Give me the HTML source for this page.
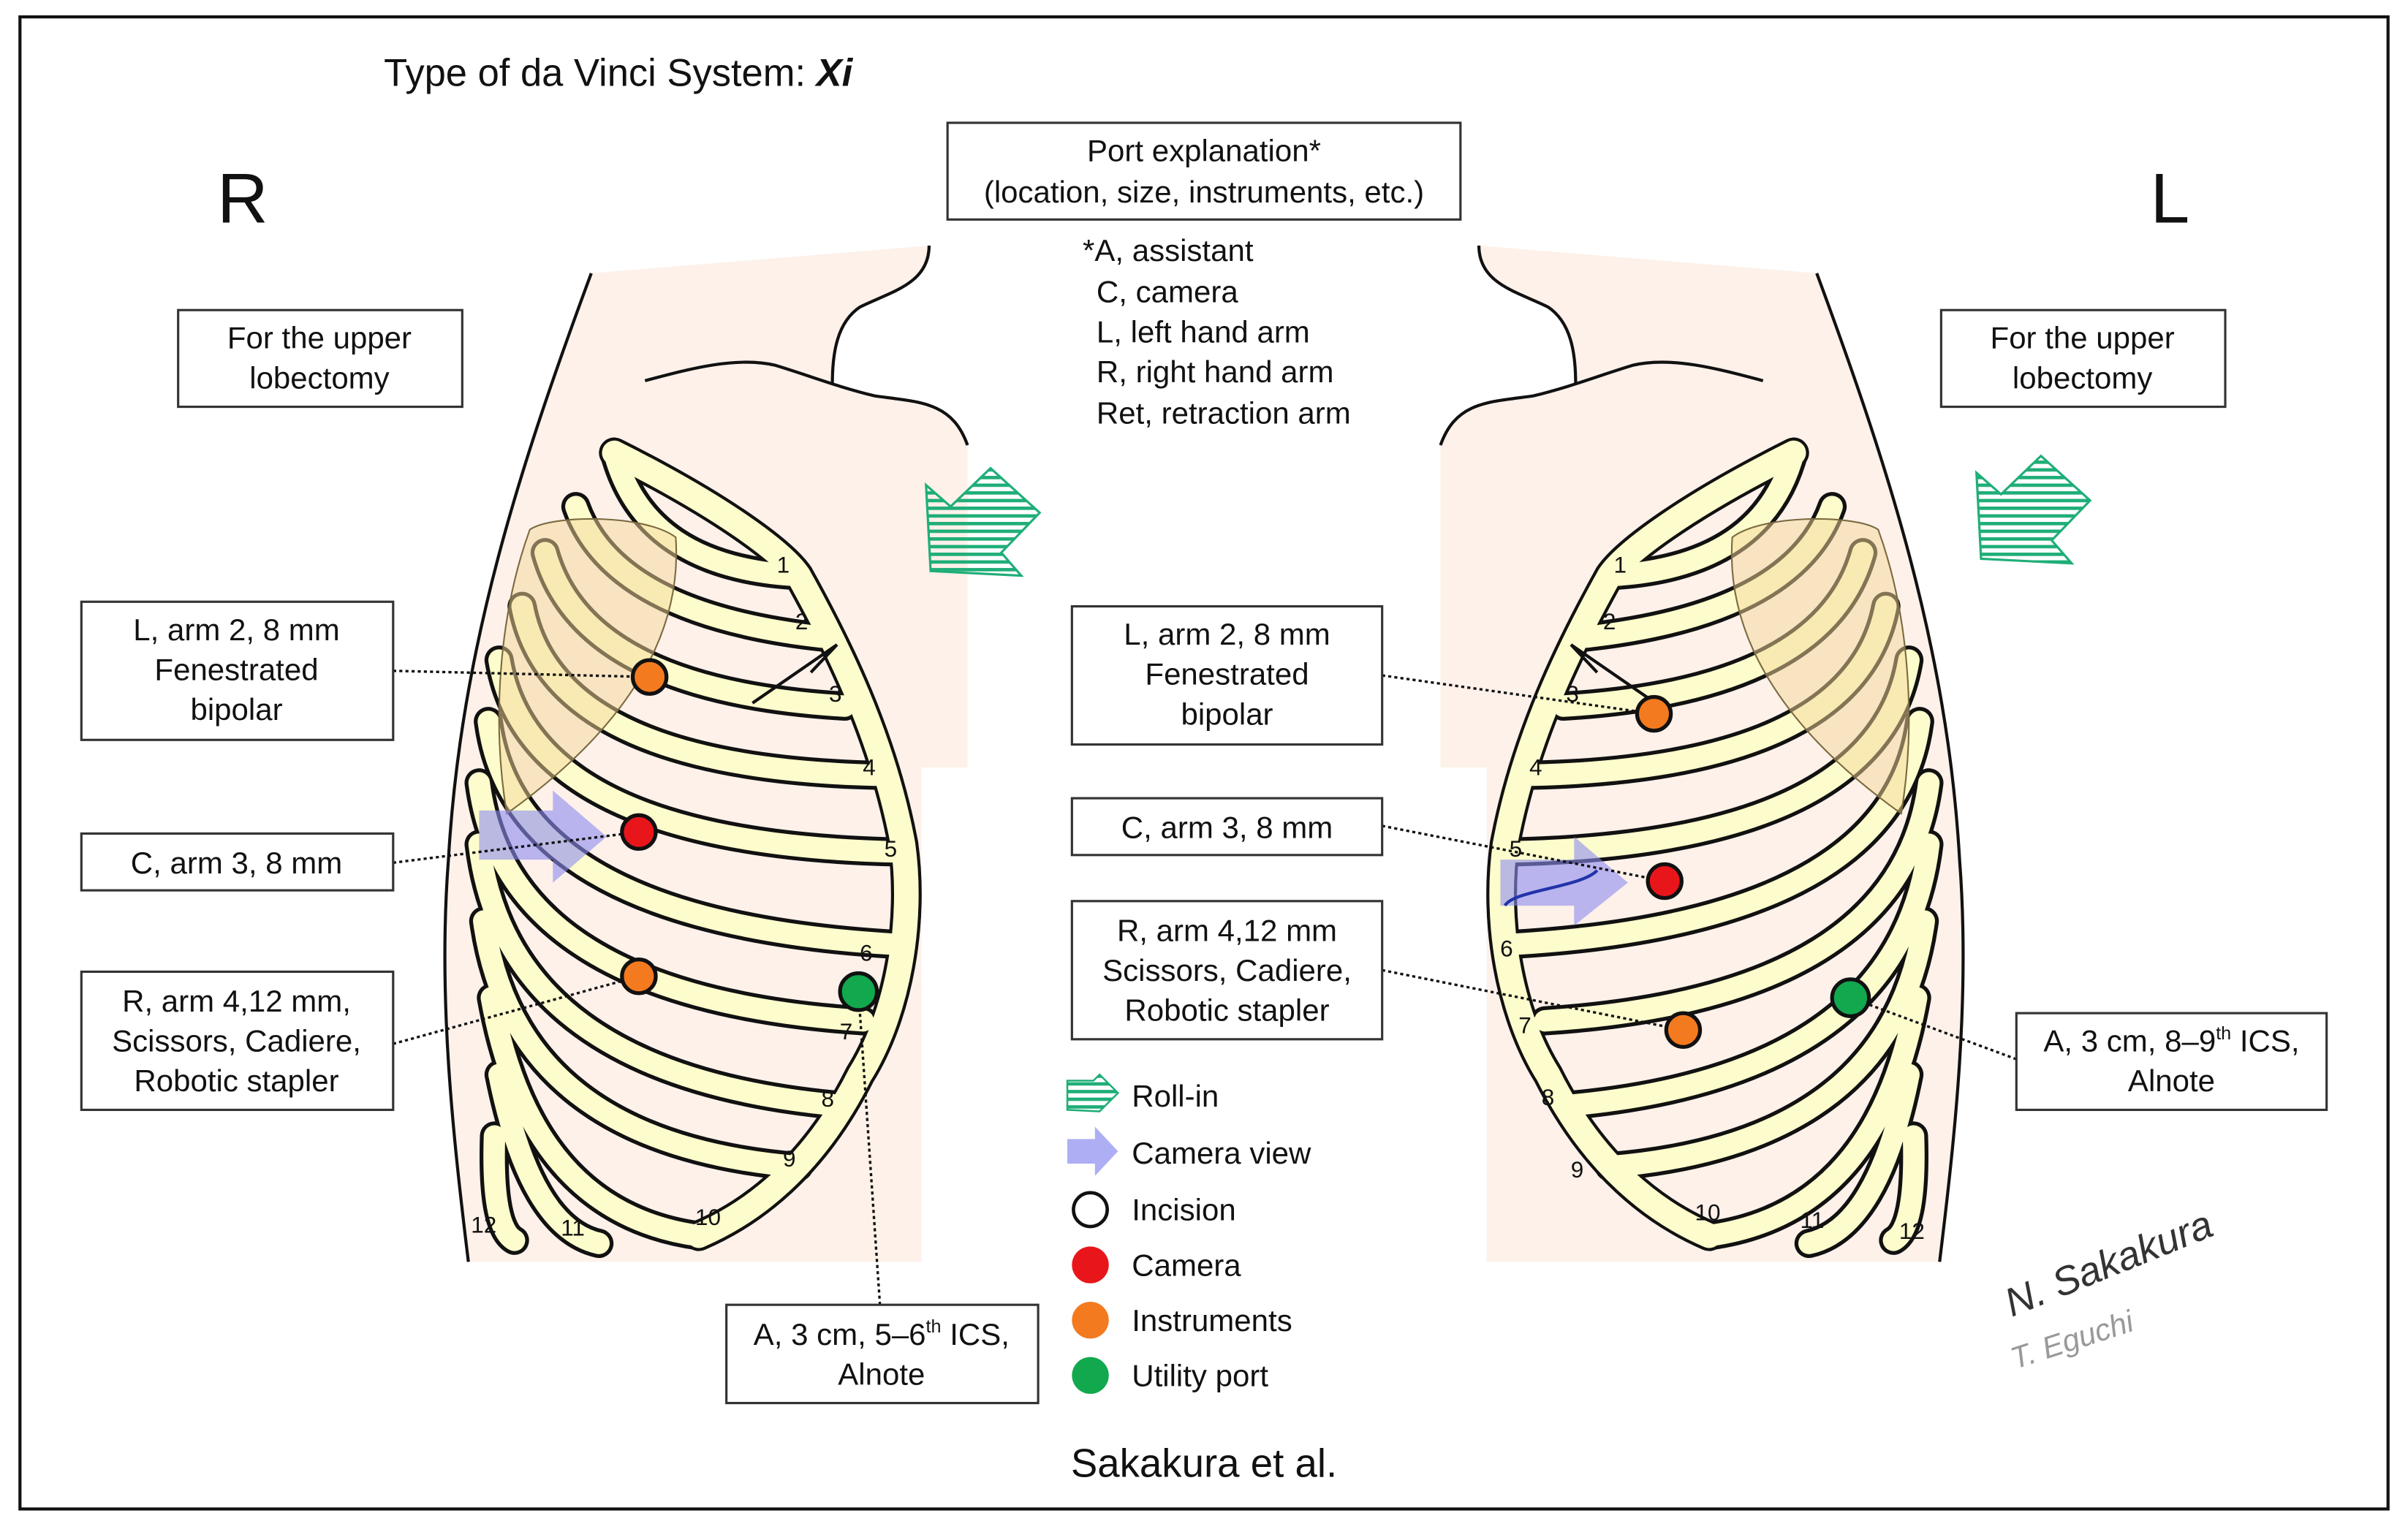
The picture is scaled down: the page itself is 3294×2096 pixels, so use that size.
<!DOCTYPE html>
<html><head><meta charset="utf-8"><style>
html,body{margin:0;padding:0;background:#fff;}
svg{display:block;}
text{font-family:"Liberation Sans",Arial,sans-serif;fill:#111;}
</style></head><body>
<svg width="3294" height="2096" viewBox="0 0 1568 998" preserveAspectRatio="none" xmlns="http://www.w3.org/2000/svg">
<defs>
<pattern id="hs" width="6" height="5" patternUnits="userSpaceOnUse"><rect width="6" height="2.2" fill="#1fae78"/></pattern>
<g id="body">
  <path d="M385,178 L605,160 C605,185 580,190 560,200 C545,210 542,230 542,250 C560,256 600,262 612,268 C625,275 630,285 630,292 L630,500 L600,500 L600,822 L305,822 C295,740 285,650 292,560 C300,420 340,300 385,178 Z" fill="#fdf1ea"/>
  <path d="M385,178 C340,300 300,420 292,560 C285,650 295,740 305,822" fill="none" stroke="#111" stroke-width="2"/>
  <path d="M605,160 C605,185 580,190 560,200 C545,210 542,230 542,250" fill="none" stroke="#111" stroke-width="2"/>
  <path d="M420,248 C450,240 480,232 505,238 C525,244 545,252 570,258 C600,262 620,262 630,290" fill="none" stroke="#111" stroke-width="2"/>
  <!-- costal band -->
  <path d="M400,295 C470,330 510,360 520,375 C545,420 575,480 588,550 C595,600 585,660 560,700 C530,760 490,790 455,805" fill="none" stroke="#111" stroke-width="20" stroke-linecap="round"/>
  <g fill="none" stroke-linecap="round">
    <g stroke="#111" stroke-width="19">
      <path d="M400,295 Q420,370 520,375"/><path d="M375,330 Q400,400 535,415"/><path d="M355,360 Q380,450 550,460"/>
      <path d="M340,395 Q360,500 570,505"/><path d="M325,430 Q345,550 585,555"/><path d="M318,470 Q335,600 580,615"/>
      <path d="M312,510 Q330,650 562,665"/><path d="M312,550 Q330,700 545,720"/><path d="M315,600 Q335,745 520,760"/>
      <path d="M320,650 Q345,790 455,805"/><path d="M325,700 Q345,800 390,810"/><path d="M322,740 Q320,800 335,808"/>
    </g>
    <path d="M400,295 C470,330 510,360 520,375 C545,420 575,480 588,550 C595,600 585,660 560,700 C530,760 490,790 455,805" stroke="#fdfccc" stroke-width="16"/>
    <g stroke="#fdfccc" stroke-width="14">
      <path d="M400,295 Q420,370 520,375"/><path d="M375,330 Q400,400 535,415"/><path d="M355,360 Q380,450 550,460"/>
      <path d="M340,395 Q360,500 570,505"/><path d="M325,430 Q345,550 585,555"/><path d="M318,470 Q335,600 580,615"/>
      <path d="M312,510 Q330,650 562,665"/><path d="M312,550 Q330,700 545,720"/><path d="M315,600 Q335,745 520,760"/>
      <path d="M320,650 Q345,790 455,805"/><path d="M325,700 Q345,800 390,810"/><path d="M322,740 Q320,800 335,808"/>
    </g>
  </g>
  <path d="M490,458 L545,420 L528,438" fill="none" stroke="#111" stroke-width="2"/>
  <path d="M345,345 C360,335 420,335 440,350 C445,420 400,480 330,530 C320,470 325,400 345,345 Z" fill="#f5d79a" fill-opacity="0.5" stroke="#7a6a40" stroke-width="1"/>
</g>
</defs>
<rect x="13" y="11" width="1542" height="972" fill="#fff" stroke="#111" stroke-width="2"/>
<use href="#body"/>
<use href="#body" transform="matrix(-1,0,0,1,1568,0)"/>
<!-- roll-in arrows -->
<path d="M603,316 L619,330 L645,305 L677,334 L652,360 L665,375 L606,372 Z" fill="url(#hs)" stroke="#1fae78" stroke-width="1.5"/>
<path d="M1287,308 L1303,322 L1329,297 L1361,326 L1336,352 L1349,367 L1290,364 Z" fill="url(#hs)" stroke="#1fae78" stroke-width="1.5"/>
<!-- camera arrows -->
<path d="M312,528 L360,528 L360,515 L395,545 L360,575 L360,560 L312,560 Z" fill="#8c8cf0" fill-opacity="0.6"/>
<path d="M977,560 L1025,560 L1025,545 L1060,575 L1025,603 L1025,590 L977,590 Z" fill="#8c8cf0" fill-opacity="0.6"/>
<path d="M980,590 C985,580 1030,578 1040,567" fill="none" stroke="#2233aa" stroke-width="2"/>
<!-- rib numbers -->
<g font-size="15" text-anchor="middle">
<text x="510" y="373">1</text><text x="522" y="410">2</text><text x="544" y="457">3</text><text x="566" y="505">4</text><text x="580" y="558">5</text><text x="564" y="626">6</text><text x="551" y="677">7</text><text x="539" y="721">8</text><text x="514" y="760">9</text><text x="461" y="798">10</text><text x="373" y="805">11</text><text x="315" y="803">12</text>
<text x="1055" y="373">1</text><text x="1048" y="410">2</text><text x="1024" y="457">3</text><text x="1000" y="505">4</text><text x="987" y="558">5</text><text x="981" y="623">6</text><text x="993" y="673">7</text><text x="1008" y="720">8</text><text x="1027" y="767">9</text><text x="1112" y="795">10</text><text x="1180" y="800">11</text><text x="1245" y="807">12</text>
</g>
<!-- leaders -->
<g stroke="#111" stroke-width="1.6" stroke-dasharray="2,2" fill="none">
<path d="M256,437 L423,441"/><path d="M256,562 L416,542"/><path d="M256,680 L416,636"/><path d="M573,850 L559,646"/>
<path d="M900,440 L1077,465"/><path d="M900,538 L1084,574"/><path d="M900,632 L1096,671"/><path d="M1313,690 L1205,650"/>
</g>
<!-- ports -->
<g stroke="#111" stroke-width="2.5">
<circle cx="423" cy="441" r="11" fill="#f47a1f"/><circle cx="416" cy="542" r="11" fill="#e8161b"/><circle cx="416" cy="636" r="11" fill="#f47a1f"/><circle cx="559" cy="646" r="12" fill="#12a84e"/>
<circle cx="1077" cy="465" r="11" fill="#f47a1f"/><circle cx="1084" cy="574" r="11" fill="#e8161b"/><circle cx="1096" cy="671" r="11" fill="#f47a1f"/><circle cx="1205" cy="650" r="12" fill="#12a84e"/>
</g>
<!-- boxes -->
<g fill="#fff" stroke="#333" stroke-width="1.5">
<rect x="617" y="80" width="334" height="63"/>
<rect x="116" y="202" width="185" height="63"/><rect x="1264" y="202" width="185" height="63"/>
<rect x="53" y="392" width="203" height="90"/><rect x="53" y="543" width="203" height="37"/><rect x="53" y="633" width="203" height="90"/>
<rect x="698" y="395" width="202" height="90"/><rect x="698" y="520" width="202" height="37"/><rect x="698" y="587" width="202" height="90"/>
<rect x="1313" y="660" width="202" height="63"/><rect x="473" y="850" width="203" height="64"/>
</g>
<g font-size="20" text-anchor="middle">
<text x="784" y="105">Port explanation*</text><text x="784" y="132">(location, size, instruments, etc.)</text>
<text x="208" y="227">For the upper</text><text x="208" y="253">lobectomy</text>
<text x="1356" y="227">For the upper</text><text x="1356" y="253">lobectomy</text>
<text x="154" y="417">L, arm 2, 8 mm</text><text x="154" y="443">Fenestrated</text><text x="154" y="469">bipolar</text>
<text x="154" y="569">C, arm 3, 8 mm</text>
<text x="154" y="659">R, arm 4,12 mm,</text><text x="154" y="685">Scissors, Cadiere,</text><text x="154" y="711">Robotic stapler</text>
<text x="799" y="420">L, arm 2, 8 mm</text><text x="799" y="446">Fenestrated</text><text x="799" y="472">bipolar</text>
<text x="799" y="546">C, arm 3, 8 mm</text>
<text x="799" y="613">R, arm 4,12 mm</text><text x="799" y="639">Scissors, Cadiere,</text><text x="799" y="665">Robotic stapler</text>
<text x="1414" y="685">A, 3 cm, 8–9<tspan font-size="12" dy="-8">th</tspan><tspan dy="8"> ICS,</tspan></text><text x="1414" y="711">Alnote</text>
<text x="574" y="876">A, 3 cm, 5–6<tspan font-size="12" dy="-8">th</tspan><tspan dy="8"> ICS,</tspan></text><text x="574" y="902">Alnote</text>
</g>
<g font-size="20">
<text x="705" y="170">*A, assistant</text><text x="714" y="197">C, camera</text><text x="714" y="223">L, left hand arm</text><text x="714" y="249">R, right hand arm</text><text x="714" y="276">Ret, retraction arm</text>
<text x="737" y="721">Roll-in</text><text x="737" y="758">Camera view</text><text x="737" y="795">Incision</text><text x="737" y="831">Camera</text><text x="737" y="867">Instruments</text><text x="737" y="903">Utility port</text>
</g>
<text x="250" y="56" font-size="25">Type of da Vinci System: <tspan font-weight="bold" font-style="italic">Xi</tspan></text>
<text x="158" y="145" font-size="46" text-anchor="middle">R</text>
<text x="1413" y="145" font-size="46" text-anchor="middle">L</text>
<text x="784" y="962" font-size="26" text-anchor="middle">Sakakura et al.</text>
<!-- legend icons -->
<path d="M695,704 L695,723 L716,724 L728,712 L716,700 L712,704 Z" fill="url(#hs)" stroke="#1fae78" stroke-width="1.2"/>
<path d="M695,742 L713,742 L713,734 L728,750 L713,766 L713,758 L695,758 Z" fill="#8c8cf0" fill-opacity="0.7"/>
<circle cx="710" cy="788" r="11" fill="#fff" stroke="#111" stroke-width="2.2"/>
<circle cx="710" cy="824" r="12" fill="#e8161b"/><circle cx="710" cy="860" r="12" fill="#f47a1f"/><circle cx="710" cy="896" r="12" fill="#12a84e"/>
<!-- signature -->
<text x="1310" y="858" font-family="Liberation Serif,serif" font-style="italic" font-size="26" style="fill:#333" transform="rotate(-22 1310 858)">N. Sakakura</text>
<text x="1312" y="892" font-family="Liberation Serif,serif" font-style="italic" font-size="20" style="fill:#999" transform="rotate(-18 1312 892)">T. Eguchi</text>
</svg>
</body></html>
